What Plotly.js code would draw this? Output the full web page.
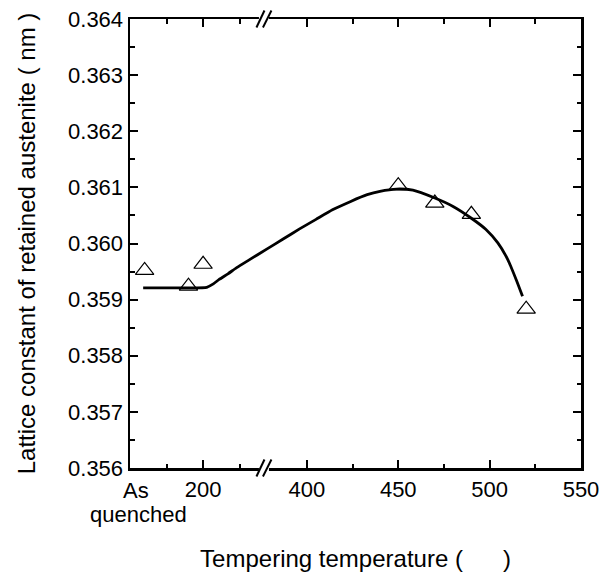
<!DOCTYPE html>
<html><head><meta charset="utf-8">
<script src="https://cdn.plot.ly/plotly-3.0.1.min.js"></script>
<style>html,body{margin:0;padding:0;background:#fff}#chart{width:603px;height:572px}</style>
</head><body><div id="chart"></div>
<script>
// ---- data (temperatures in °C; the as-quenched sample sits on the left, compressed segment) ----
const AQ_POS = 120;            // plotting position of the as-quenched sample
const AQ_LABEL_POS = 110;      // where the "As quenched" label is centred
const sampleTemps = [AQ_POS, 180, 200, 450, 470, 490, 520];
const latticeConst = [0.35952, 0.35924, 0.35963, 0.36103, 0.36072, 0.36052, 0.35883];

const curveTemps  = [118, 150, 180, 205, 214, 222, 234, 246, 262,
                     378, 387, 396, 405, 414, 424, 433, 440, 449, 458, 470, 480, 490, 498, 504.5, 510, 514.6, 518];
const curveValues = [0.35921, 0.35921, 0.35921, 0.35922, 0.35928, 0.35936, 0.35946, 0.35957, 0.35970,
                     0.35990, 0.36008, 0.36026, 0.36043, 0.36060, 0.36075, 0.36087, 0.36093, 0.36097, 0.36095, 0.36081, 0.36066, 0.36045, 0.36025, 0.36001, 0.35971, 0.35935, 0.35906];

const xTickTemps  = [200, 400, 450, 500, 550];
const xTickLabels = ['200', '400', '450', '500', '550'];
const xMinorTemps = [150, 250, 425, 475, 525];
const yTickVals   = [0.356, 0.357, 0.358, 0.359, 0.360, 0.361, 0.362, 0.363, 0.364];
const yTickLabels = ['0.356', '0.357', '0.358', '0.359', '0.360', '0.361', '0.362', '0.363', '0.364'];

// ---- broken-axis scale: left segment (100..282 °C) compressed, right segment (376..550 °C) true ----
const LEFT_START = 100, LEFT_END = 282, RIGHT_START = 376, RIGHT_END = 550, LEFT_COMPRESS = 0.4;
const AXIS_MIN = RIGHT_START - (LEFT_END - LEFT_START) * LEFT_COMPRESS;
function toAxis(T) { return T <= LEFT_END ? AXIS_MIN + (T - LEFT_START) * LEFT_COMPRESS : T; }
const BREAK_U = (toAxis(LEFT_END) + RIGHT_START) / 2 + 0.5;
const breakPaper = (BREAK_U - AXIS_MIN) / (RIGHT_END - AXIS_MIN);

const FONT = 'Arial, "Liberation Sans", Helvetica, sans-serif';

const traces = [
  {
    x: curveTemps.map(toAxis), y: curveValues, mode: 'lines', type: 'scatter',
    line: {color: '#000', width: 2.8, shape: 'spline', smoothing: 0.5},
    hoverinfo: 'skip', showlegend: false
  },
  {
    x: sampleTemps.map(toAxis), y: latticeConst, mode: 'markers', type: 'scatter',
    marker: {symbol: 'triangle-up-open', size: 16, color: '#000', line: {color: '#000', width: 1.2}},
    showlegend: false
  }
];

function breakShapes(yPaper) {
  const common = {xref: 'paper', yref: 'paper', xsizemode: 'pixel', ysizemode: 'pixel',
                  xanchor: breakPaper, yanchor: yPaper, layer: 'above'};
  return [
    Object.assign({type: 'rect', x0: -5, x1: 5, y0: -3, y1: 3, fillcolor: '#fff', line: {width: 0}}, common),
    Object.assign({type: 'line', x0: -7.5, x1: 0.5, y0: -8.5, y1: 8.5, line: {color: '#000', width: 2}}, common),
    Object.assign({type: 'line', x0: -1, x1: 7.5, y0: -8.5, y1: 8.5, line: {color: '#000', width: 2}}, common)
  ];
}

const layout = {
  width: 603, height: 572,
  margin: {l: 130, r: 22, t: 19, b: 104},
  paper_bgcolor: '#fff', plot_bgcolor: '#fff',
  font: {family: FONT, color: '#000', size: 22},
  showlegend: false,
  xaxis: {
    range: [AXIS_MIN, RIGHT_END], showgrid: false, zeroline: false,
    showline: true, linecolor: '#000', linewidth: 2.5, mirror: 'ticks',
    tickmode: 'array', tickvals: xTickTemps.map(toAxis), ticktext: xTickLabels,
    ticks: 'inside', ticklen: 8, tickwidth: 2, tickcolor: '#000',
    minor: {tickmode: 'array', tickvals: xMinorTemps.map(toAxis), ticks: 'inside', ticklen: 4.5, tickwidth: 2, tickcolor: '#000'},
    tickfont: {size: 22, family: FONT, color: '#000'},
    title: {text: 'Tempering temperature (\u00a0\u00a0\u00a0\u00a0\u00a0\u00a0)', font: {size: 24, family: FONT, color: '#000'}, standoff: 52}
  },
  yaxis: {
    range: [0.356, 0.364], showgrid: false, zeroline: false,
    showline: true, linecolor: '#000', linewidth: 2.5, mirror: 'ticks',
    tickmode: 'array', tickvals: yTickVals, ticktext: yTickLabels,
    ticks: 'inside', ticklen: 8, tickwidth: 2, tickcolor: '#000',
    minor: {dtick: 0.0005, ticks: 'inside', ticklen: 4.5, tickwidth: 2, tickcolor: '#000'},
    tickfont: {size: 22, family: FONT, color: '#000'},
    title: {text: 'Lattice constant of retained austenite ( nm )', font: {size: 24, family: FONT, color: '#000'}, standoff: 26}
  },
  annotations: [
    {text: 'As', x: toAxis(AQ_LABEL_POS), y: 0, xref: 'x', yref: 'paper', xanchor: 'center', yanchor: 'top',
     yshift: -8, xshift: -1.5, showarrow: false, font: {size: 22, family: FONT, color: '#000'}},
    {text: 'quenched', x: toAxis(AQ_LABEL_POS), y: 0, xref: 'x', yref: 'paper', xanchor: 'center', yanchor: 'top',
     yshift: -32, xshift: 1.5, showarrow: false, font: {size: 22, family: FONT, color: '#000'}}
  ],
  shapes: breakShapes(0).concat(breakShapes(1))
};

Plotly.newPlot('chart', traces, layout, {displayModeBar: false, staticPlot: true});
</script>
</body></html>
